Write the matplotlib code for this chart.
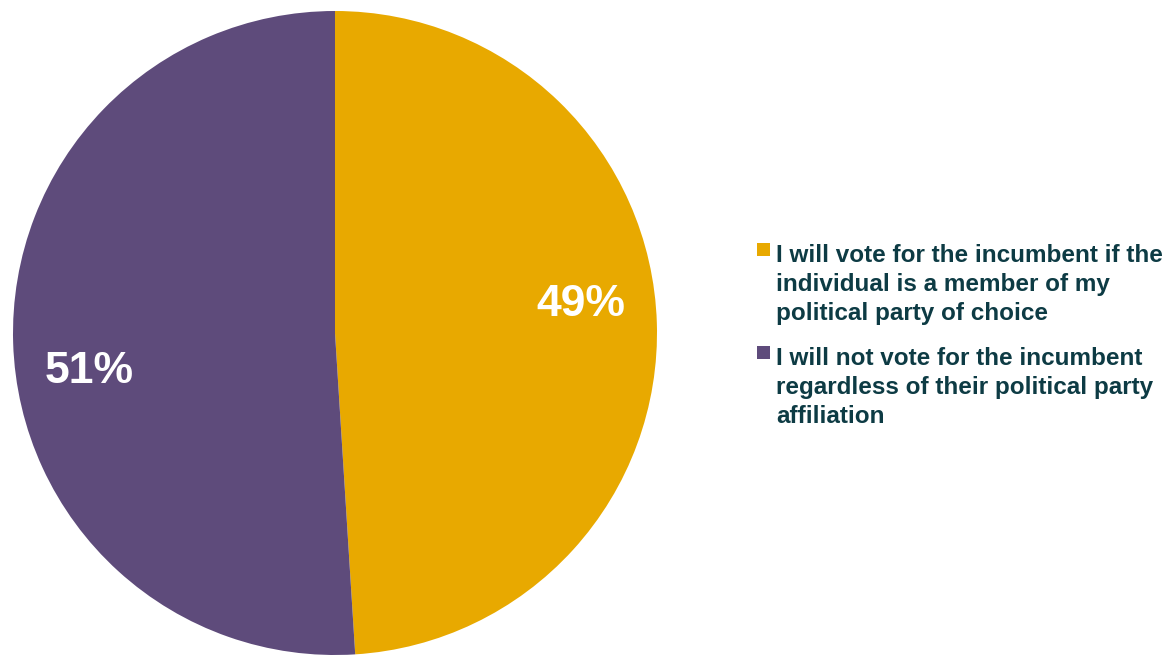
import numpy as np
import matplotlib.pyplot as plt
from matplotlib.patches import Rectangle

labels = [
    'I will vote for the incumbent if the\nindividual is a member of my\npolitical party of choice',
    'I will not vote for the incumbent\nregardless of their political party\naffiliation',
]
shares = [49, 51]
colors = ['#E8A900', '#5E4B7B']
text_color = '#0D3B44'

plt.rcParams['font.family'] = ['Liberation Sans', 'DejaVu Sans']

W, H = 1166, 655
fig = plt.figure(figsize=(W / 100, H / 100), dpi=100)
ax = fig.add_axes([13 / W, 0, 644 / W, 644 / H])

wedges, texts, autotexts = ax.pie(
    shares, colors=colors, startangle=90, counterclock=False,
    autopct='%d%%', pctdistance=0.77,
    wedgeprops=dict(linewidth=0),
    textprops=dict(color='white', fontsize=32, fontweight='bold'),
)
ax.set_xlim(-1, 1)
ax.set_ylim(-1, 1)
ax.set_aspect('equal')

# nudge the percentage labels a little counterclockwise from the wedge middles
for w, t in zip(wedges, autotexts):
    mid = np.deg2rad((w.theta1 + w.theta2) / 2 + 6)
    t.set_position((0.77 * np.cos(mid), 0.77 * np.sin(mid) - 0.015))

# legend: square marker beside a wrapped, bold label
entry_tops = [243, 346]
for top, label, c in zip(entry_tops, labels, colors):
    fig.patches.append(Rectangle((757 / W, 1 - (top + 13) / H), 13 / W, 13 / H,
                                 transform=fig.transFigure, facecolor=c,
                                 edgecolor='none'))
    fig.text(776 / W, 1 - (top + 1) / H, label, ha='left', va='top',
             fontsize=17.5, fontweight='bold', color=text_color,
             linespacing=1.32)

fig.savefig('out.png', dpi=100)
